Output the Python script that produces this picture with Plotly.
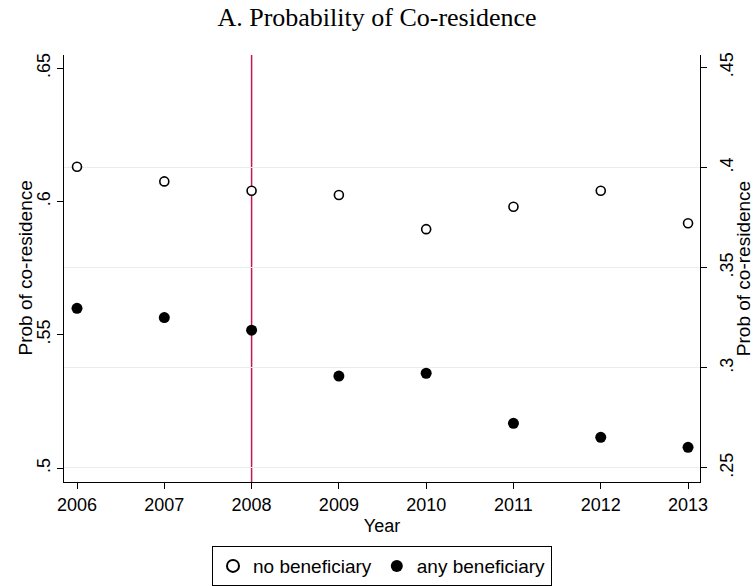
import plotly.graph_objects as go

# values
years = [2006, 2007, 2008, 2009, 2010, 2011, 2012, 2013]
no_benef = [0.613, 0.6075, 0.604, 0.6024, 0.5896, 0.598, 0.604, 0.5918]   # left axis
any_benef = [0.3297, 0.3251, 0.3188, 0.2959, 0.2973, 0.2723, 0.2653, 0.2603]  # right axis

left_ticks = [0.5, 0.55, 0.6, 0.65]
left_labels = [".5", ".55", ".6", ".65"]
right_ticks = [0.25, 0.3, 0.35, 0.4, 0.45]
right_labels = [".25", ".3", ".35", ".4", ".45"]
right_grid = [0.25, 0.3, 0.35, 0.4]
policy_year = 2008

sans = "Liberation Sans, Arial, sans-serif"
serif = "Liberation Serif, Times New Roman, serif"

fig = go.Figure()

fig.add_trace(go.Scatter(
    x=years, y=no_benef, mode="markers", name="no beneficiary", yaxis="y2",
    marker=dict(symbol="circle", size=9, color="white",
                line=dict(color="black", width=1.6)),
))
fig.add_trace(go.Scatter(
    x=years, y=any_benef, mode="markers", name="any beneficiary", yaxis="y",
    marker=dict(symbol="circle", size=11, color="black",
                line=dict(color="black", width=0)),
))

fig.add_vline(x=policy_year, line=dict(color="#c8174f", width=1.5), layer="below")

# left axis title as an annotation so it can sit a bit closer to the ticks
fig.add_annotation(text="Prob of co-residence", textangle=-90,
                   xref="paper", yref="paper", x=-39 / 636, y=0.5,
                   xanchor="center", yanchor="middle", showarrow=False,
                   font=dict(size=19))

fig.update_layout(
    width=754, height=586,
    margin=dict(l=64, r=54, t=55, b=104, autoexpand=False),
    paper_bgcolor="white", plot_bgcolor="white",
    font=dict(family=sans, size=18, color="black"),
    title=dict(text="A. Probability of Co-residence", x=0.5, xanchor="center",
               y=1 - 17 / 586, yanchor="middle", automargin=False,
               font=dict(family=serif, size=26, color="black")),
    xaxis=dict(
        range=[2005.851, 2013.137], tickmode="array", tickvals=years,
        showgrid=False, zeroline=False, showline=True, linecolor="black",
        linewidth=1, ticks="outside", ticklen=6, tickcolor="black",
        tickfont=dict(size=18), automargin=False,
        title=dict(text="Year", font=dict(size=18), standoff=5),
    ),
    yaxis=dict(
        side="right", range=[0.243, 0.4562], tickmode="array",
        tickvals=right_ticks, ticktext=right_labels, tickangle=-90,
        showgrid=False, zeroline=False, showline=True, linecolor="black",
        linewidth=1, ticks="outside", ticklen=6, tickcolor="black",
        automargin=False, ticklabelstandoff=4,
        minor=dict(tickvals=right_grid, showgrid=True, gridcolor="#e6eef1",
                   gridwidth=1.2, ticks=""),
        title=dict(text="Prob of co-residence", font=dict(size=19), standoff=0),
    ),
    yaxis2=dict(
        side="left", overlaying="y", anchor="x",
        range=[0.4948, 0.6549], tickmode="array",
        tickvals=left_ticks, ticktext=left_labels, tickangle=-90,
        showgrid=False, zeroline=False, showline=True, linecolor="black",
        linewidth=1, ticks="outside", ticklen=6, tickcolor="black",
        automargin=False,
    ),
    legend=dict(
        orientation="h", x=0.5, xanchor="center", y=-0.150, yanchor="top",
        bordercolor="black", borderwidth=1, font=dict(size=19),
        itemsizing="constant",
    ),
)

# page has a default 8px body margin; drop it so the figure sits at 0,0
fig.write_html("out.html", config={"displayModeBar": False},
               post_script="document.body.style.margin='0';"
                           "document.body.style.overflow='hidden';")
